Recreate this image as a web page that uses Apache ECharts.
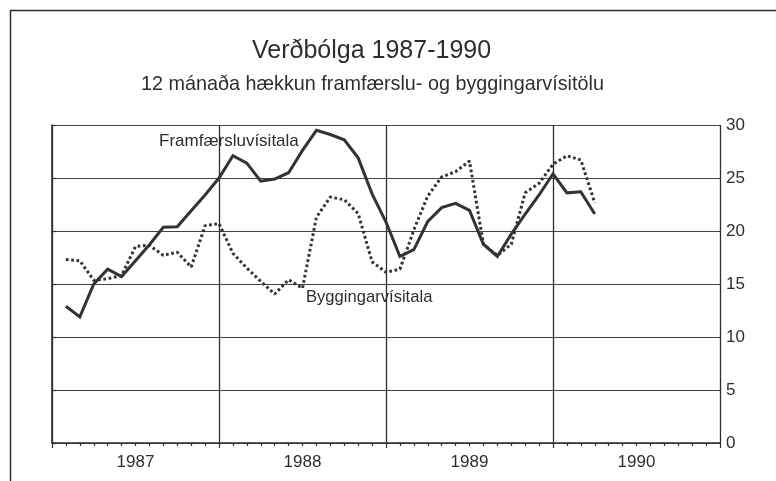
<!DOCTYPE html>
<html>
<head>
<meta charset="utf-8">
<script src="https://cdn.jsdelivr.net/npm/echarts@6/dist/echarts.min.js"></script>
<style>
html,body{margin:0;padding:0;background:#fff;}
#chart{width:776px;height:481px;}
</style>
</head>
<body>
<div id="chart"></div>
<script>
// Month index (0 = start of Jan 1987), one point per month
const monthIndex = [1,2,3,4,5,6,7,8,9,10,11,12,13,14,15,16,17,18,19,20,21,22,23,24,25,26,27,28,29,30,31,32,33,34,35,36,37,38,39];
// Framfærsluvísitala, 12-month change (%)
const framfaersla = [12.9,11.9,15.0,16.4,15.7,17.2,18.7,20.35,20.4,21.9,23.4,25.0,27.1,26.4,24.7,24.9,25.5,27.6,29.5,29.1,28.6,26.9,23.5,20.85,17.6,18.25,20.9,22.2,22.6,21.95,18.75,17.6,19.7,21.6,23.4,25.4,23.6,23.7,21.6];
// Byggingarvísitala, 12-month change (%)
const bygging = [17.3,17.2,15.35,15.5,15.8,18.55,18.65,17.7,18.0,16.6,20.5,20.7,17.9,16.5,15.25,14.05,15.4,14.6,21.3,23.2,22.95,21.65,17.1,16.1,16.4,20.1,23.3,25.1,25.6,26.6,18.75,17.7,18.75,23.6,24.5,26.3,27.1,26.7,22.65];
const yearLabels = ['1987','1988','1989','1990'];
const yTicks = {min: 0, max: 30, interval: 5};
const titleText = 'Verðbólga 1987-1990';
const subtitleText = '12 mánaða hækkun framfærslu- og byggingarvísitölu';
const seriesNames = ['Framfærsluvísitala', 'Byggingarvísitala'];

const FONT = '"Liberation Sans", Arial, sans-serif';
const INK = '#2e2e2e';
const chart = echarts.init(document.getElementById('chart'), null, {renderer: 'canvas'});

chart.setOption({
  backgroundColor: '#ffffff',
  animation: false,
  textStyle: {fontFamily: FONT, color: INK},
  title: [
    {text: titleText, left: 252, top: 39, padding: 0,
     textStyle: {fontFamily: FONT, fontSize: 25, fontWeight: 'normal', color: INK}},
    {text: subtitleText, left: 141, top: 75, padding: 0,
     textStyle: {fontFamily: FONT, fontSize: 19.8, fontWeight: 'normal', color: INK}}
  ],
  grid: {left: 52, right: 56, top: 125, bottom: 38, containLabel: false},
  xAxis: [
    {type: 'value', min: 0, max: 48, interval: 12,
     axisLine: {show: true, onZero: false, lineStyle: {color: INK, width: 1.5}},
     axisTick: {show: true, inside: false, length: 5, lineStyle: {color: INK, width: 1.2}},
     minorTick: {show: true, splitNumber: 12, length: 3, lineStyle: {color: INK, width: 1.2}},
     axisLabel: {show: false},
     splitLine: {show: true, lineStyle: {color: INK, width: 1.3}}},
    {type: 'category', data: yearLabels, boundaryGap: true, position: 'bottom',
     axisLine: {show: false}, axisTick: {show: false}, splitLine: {show: false},
     axisLabel: {show: true, margin: 11, fontFamily: FONT, fontSize: 17, color: INK}}
  ],
  yAxis: {type: 'value', position: 'right', min: yTicks.min, max: yTicks.max, interval: yTicks.interval,
    axisLine: {show: true, lineStyle: {color: INK, width: 1.5}},
    axisTick: {show: true, inside: false, length: 4, lineStyle: {color: INK, width: 1.2}},
    axisLabel: {margin: 6, fontFamily: FONT, fontSize: 17, color: INK},
    splitLine: {show: true, lineStyle: {color: '#444', width: 1.2}}},
  series: [
    {name: seriesNames[0], type: 'line', xAxisIndex: 0, showSymbol: false, symbol: 'none',
     data: monthIndex.map((m, i) => [m, framfaersla[i]]),
     lineStyle: {color: '#333', width: 3, type: 'solid', join: 'miter'}},
    {name: seriesNames[1], type: 'line', xAxisIndex: 0, showSymbol: false, symbol: 'none',
     data: monthIndex.map((m, i) => [m, bygging[i]]),
     lineStyle: {color: '#333', width: 3, type: [2.7, 2.6], cap: 'butt'}}
  ],
  graphic: [
    {type: 'line', shape: {x1: 10, y1: 10.5, x2: 776, y2: 10.5}, style: {stroke: INK, lineWidth: 1.5}},
    {type: 'line', shape: {x1: 10.5, y1: 10, x2: 10.5, y2: 481}, style: {stroke: INK, lineWidth: 1.5}},
    {type: 'text', left: 159, top: 133, style: {text: seriesNames[0], font: '17px ' + FONT, fill: INK}},
    {type: 'text', left: 306, top: 289, style: {text: seriesNames[1], font: '16.6px ' + FONT, fill: INK}}
  ]
});
</script>
</body>
</html>
